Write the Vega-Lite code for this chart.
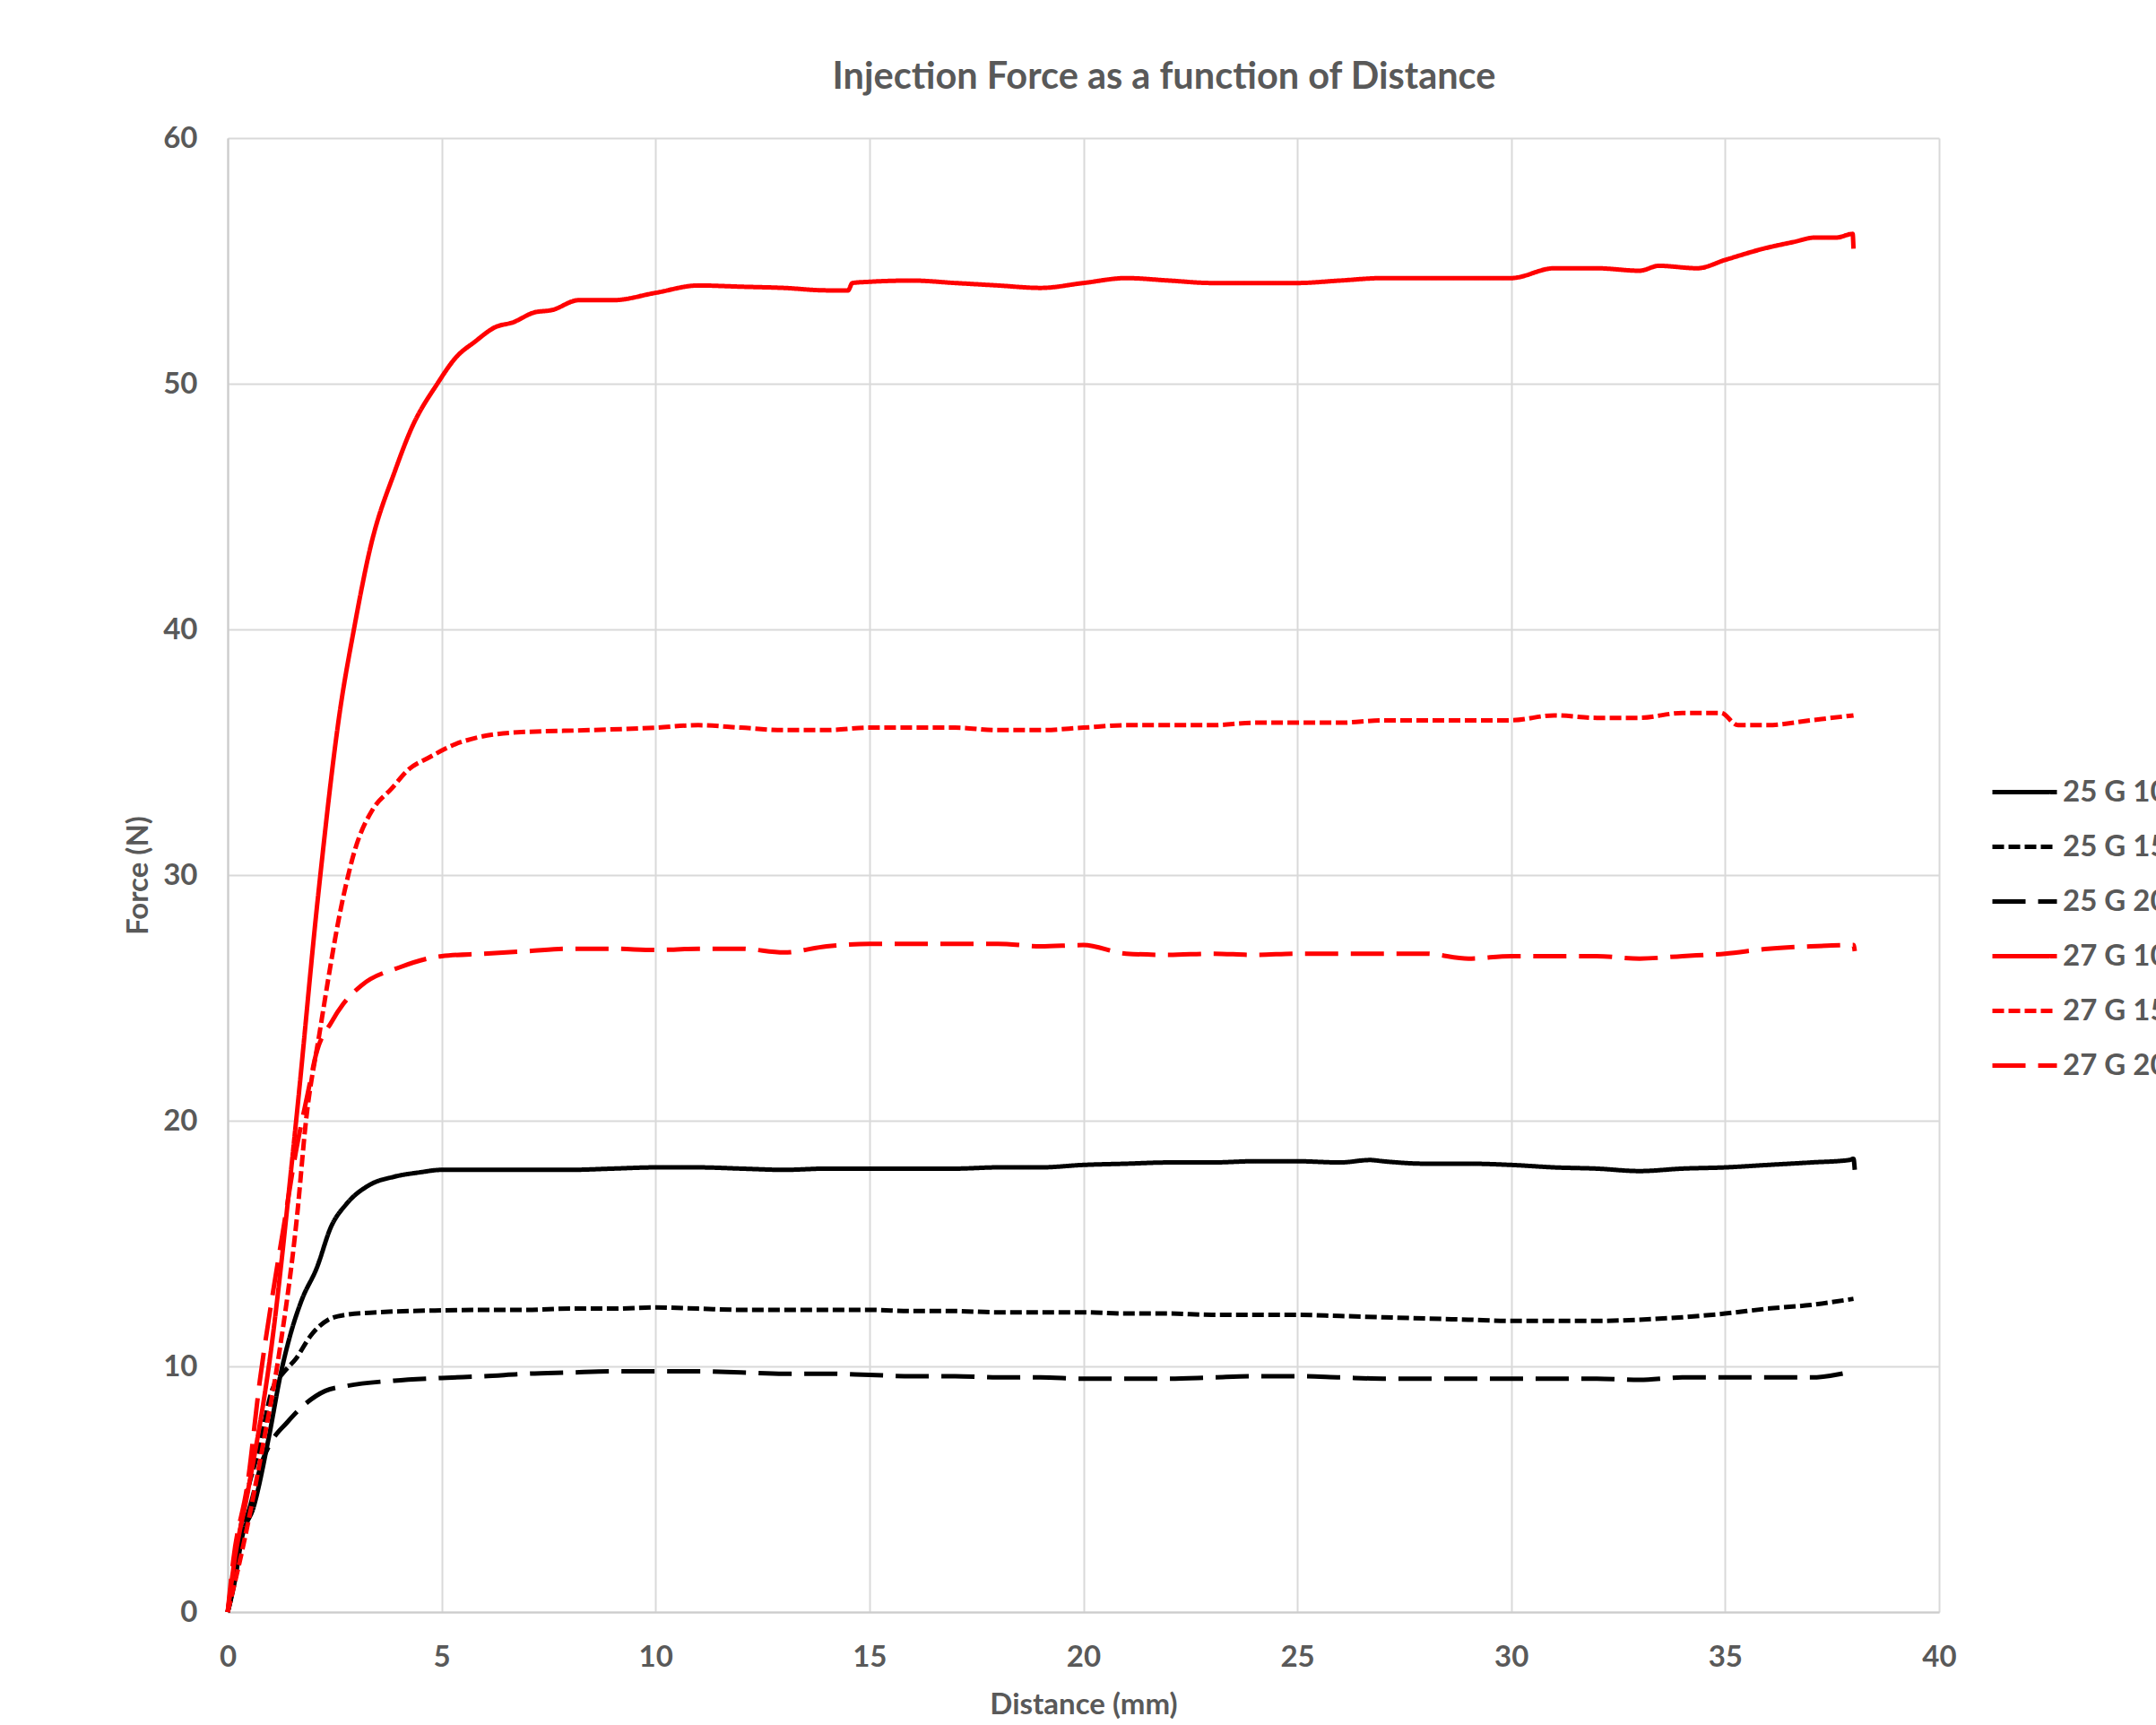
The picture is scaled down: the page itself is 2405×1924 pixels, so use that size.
{
  "$schema": "https://vega.github.io/schema/vega-lite/v6.json",
  "width": 1909,
  "height": 1644,
  "autosize": {"type": "none"},
  "padding": {"left": 254, "top": 154, "right": 242, "bottom": 126},
  "background": "white",
  "title": {
    "text": "Injection Force as a function of Distance",
    "anchor": "middle",
    "frame": "group",
    "dx": 90,
    "offset": -2,
    "font": "Lato",
    "fontSize": 41.5,
    "fontWeight": "bold",
    "color": "#595959",
    "baseline": "alphabetic"
  },
  "config": {
    "view": {"stroke": null},
    "axis": {
      "labelFont": "Lato",
      "labelFontSize": 33,
      "labelFontWeight": "bold",
      "labelColor": "#595959",
      "labelFlush": false,
      "titleFont": "Lato",
      "titleFontSize": 33,
      "titleFontWeight": "bold",
      "titleColor": "#595959",
      "gridColor": "#d9d9d9",
      "gridWidth": 2,
      "domainColor": "#cccccc",
      "domainWidth": 2,
      "ticks": false,
      "tickSize": 0
    },
    "legend": {
      "labelFont": "Lato",
      "labelFontSize": 33,
      "labelFontWeight": "bold",
      "labelColor": "#595959"
    }
  },
  "data": {
    "values": [
      {"s": "25 G 10", "x": 0, "y": 0},
      {"s": "25 G 10", "x": 0.16, "y": 1.2},
      {"s": "25 G 10", "x": 0.33, "y": 3.0},
      {"s": "25 G 10", "x": 0.61, "y": 4.3},
      {"s": "25 G 10", "x": 0.96, "y": 7.1},
      {"s": "25 G 10", "x": 1.24, "y": 9.7},
      {"s": "25 G 10", "x": 1.45, "y": 11.2},
      {"s": "25 G 10", "x": 1.73, "y": 12.7},
      {"s": "25 G 10", "x": 2.08, "y": 14.0},
      {"s": "25 G 10", "x": 2.42, "y": 15.7},
      {"s": "25 G 10", "x": 2.77, "y": 16.6},
      {"s": "25 G 10", "x": 3.33, "y": 17.4},
      {"s": "25 G 10", "x": 3.89, "y": 17.72},
      {"s": "25 G 10", "x": 4.5, "y": 17.9},
      {"s": "25 G 10", "x": 5, "y": 18.0},
      {"s": "25 G 10", "x": 6, "y": 18.0},
      {"s": "25 G 10", "x": 7, "y": 18.0},
      {"s": "25 G 10", "x": 8, "y": 18.0},
      {"s": "25 G 10", "x": 9, "y": 18.05},
      {"s": "25 G 10", "x": 10, "y": 18.1},
      {"s": "25 G 10", "x": 11, "y": 18.1},
      {"s": "25 G 10", "x": 12, "y": 18.05},
      {"s": "25 G 10", "x": 13, "y": 18.0},
      {"s": "25 G 10", "x": 14, "y": 18.05},
      {"s": "25 G 10", "x": 15, "y": 18.05},
      {"s": "25 G 10", "x": 16, "y": 18.05},
      {"s": "25 G 10", "x": 17, "y": 18.05},
      {"s": "25 G 10", "x": 18, "y": 18.1},
      {"s": "25 G 10", "x": 19, "y": 18.1},
      {"s": "25 G 10", "x": 20, "y": 18.2},
      {"s": "25 G 10", "x": 21, "y": 18.25},
      {"s": "25 G 10", "x": 22, "y": 18.3},
      {"s": "25 G 10", "x": 23, "y": 18.3},
      {"s": "25 G 10", "x": 24, "y": 18.35},
      {"s": "25 G 10", "x": 25, "y": 18.35},
      {"s": "25 G 10", "x": 26, "y": 18.3},
      {"s": "25 G 10", "x": 26.7, "y": 18.4},
      {"s": "25 G 10", "x": 27, "y": 18.35},
      {"s": "25 G 10", "x": 28, "y": 18.25},
      {"s": "25 G 10", "x": 29, "y": 18.25},
      {"s": "25 G 10", "x": 30, "y": 18.2},
      {"s": "25 G 10", "x": 31, "y": 18.1},
      {"s": "25 G 10", "x": 32, "y": 18.05},
      {"s": "25 G 10", "x": 33, "y": 17.95},
      {"s": "25 G 10", "x": 34, "y": 18.05},
      {"s": "25 G 10", "x": 35, "y": 18.1},
      {"s": "25 G 10", "x": 36, "y": 18.2},
      {"s": "25 G 10", "x": 37, "y": 18.3},
      {"s": "25 G 10", "x": 37.9, "y": 18.4},
      {"s": "25 G 10", "x": 38, "y": 18.45},
      {"s": "25 G 10", "x": 38.03, "y": 18.0},
      {"s": "25 G 15", "x": 0, "y": 0},
      {"s": "25 G 15", "x": 0.13, "y": 1.5},
      {"s": "25 G 15", "x": 0.4, "y": 4.4},
      {"s": "25 G 15", "x": 0.75, "y": 6.8},
      {"s": "25 G 15", "x": 1.03, "y": 9.0},
      {"s": "25 G 15", "x": 1.31, "y": 9.76},
      {"s": "25 G 15", "x": 1.59, "y": 10.3},
      {"s": "25 G 15", "x": 1.94, "y": 11.25},
      {"s": "25 G 15", "x": 2.35, "y": 11.9},
      {"s": "25 G 15", "x": 2.77, "y": 12.1},
      {"s": "25 G 15", "x": 3.5, "y": 12.2},
      {"s": "25 G 15", "x": 5, "y": 12.28},
      {"s": "25 G 15", "x": 6, "y": 12.3},
      {"s": "25 G 15", "x": 7, "y": 12.3},
      {"s": "25 G 15", "x": 8, "y": 12.35},
      {"s": "25 G 15", "x": 9, "y": 12.35},
      {"s": "25 G 15", "x": 10, "y": 12.4},
      {"s": "25 G 15", "x": 11, "y": 12.35},
      {"s": "25 G 15", "x": 12, "y": 12.3},
      {"s": "25 G 15", "x": 13, "y": 12.3},
      {"s": "25 G 15", "x": 14, "y": 12.3},
      {"s": "25 G 15", "x": 15, "y": 12.3},
      {"s": "25 G 15", "x": 16, "y": 12.25},
      {"s": "25 G 15", "x": 17, "y": 12.25},
      {"s": "25 G 15", "x": 18, "y": 12.2},
      {"s": "25 G 15", "x": 19, "y": 12.2},
      {"s": "25 G 15", "x": 20, "y": 12.2},
      {"s": "25 G 15", "x": 21, "y": 12.15},
      {"s": "25 G 15", "x": 22, "y": 12.15},
      {"s": "25 G 15", "x": 23, "y": 12.1},
      {"s": "25 G 15", "x": 24, "y": 12.1},
      {"s": "25 G 15", "x": 25, "y": 12.1},
      {"s": "25 G 15", "x": 26, "y": 12.05},
      {"s": "25 G 15", "x": 27, "y": 12.0},
      {"s": "25 G 15", "x": 28, "y": 11.95},
      {"s": "25 G 15", "x": 29, "y": 11.9},
      {"s": "25 G 15", "x": 30, "y": 11.85},
      {"s": "25 G 15", "x": 31, "y": 11.85},
      {"s": "25 G 15", "x": 32, "y": 11.85},
      {"s": "25 G 15", "x": 33, "y": 11.9},
      {"s": "25 G 15", "x": 34, "y": 12.0},
      {"s": "25 G 15", "x": 35, "y": 12.15},
      {"s": "25 G 15", "x": 36, "y": 12.35},
      {"s": "25 G 15", "x": 37, "y": 12.5},
      {"s": "25 G 15", "x": 38, "y": 12.75},
      {"s": "25 G 20", "x": 0, "y": 0},
      {"s": "25 G 20", "x": 0.06, "y": 0.4},
      {"s": "25 G 20", "x": 0.26, "y": 2.65},
      {"s": "25 G 20", "x": 0.54, "y": 4.4},
      {"s": "25 G 20", "x": 0.82, "y": 6.2},
      {"s": "25 G 20", "x": 1.03, "y": 6.96},
      {"s": "25 G 20", "x": 1.38, "y": 7.7},
      {"s": "25 G 20", "x": 1.8, "y": 8.45},
      {"s": "25 G 20", "x": 2.28, "y": 9.0},
      {"s": "25 G 20", "x": 2.77, "y": 9.2},
      {"s": "25 G 20", "x": 3.89, "y": 9.42},
      {"s": "25 G 20", "x": 5, "y": 9.53},
      {"s": "25 G 20", "x": 6, "y": 9.6},
      {"s": "25 G 20", "x": 7, "y": 9.7},
      {"s": "25 G 20", "x": 8, "y": 9.75},
      {"s": "25 G 20", "x": 9, "y": 9.8},
      {"s": "25 G 20", "x": 10, "y": 9.8},
      {"s": "25 G 20", "x": 11, "y": 9.8},
      {"s": "25 G 20", "x": 12, "y": 9.75},
      {"s": "25 G 20", "x": 13, "y": 9.7},
      {"s": "25 G 20", "x": 14, "y": 9.7},
      {"s": "25 G 20", "x": 15, "y": 9.65},
      {"s": "25 G 20", "x": 16, "y": 9.6},
      {"s": "25 G 20", "x": 17, "y": 9.6},
      {"s": "25 G 20", "x": 18, "y": 9.55},
      {"s": "25 G 20", "x": 19, "y": 9.55},
      {"s": "25 G 20", "x": 20, "y": 9.5},
      {"s": "25 G 20", "x": 21, "y": 9.5},
      {"s": "25 G 20", "x": 22, "y": 9.5},
      {"s": "25 G 20", "x": 23, "y": 9.55},
      {"s": "25 G 20", "x": 24, "y": 9.6},
      {"s": "25 G 20", "x": 25, "y": 9.6},
      {"s": "25 G 20", "x": 26, "y": 9.55},
      {"s": "25 G 20", "x": 27, "y": 9.5},
      {"s": "25 G 20", "x": 28, "y": 9.5},
      {"s": "25 G 20", "x": 29, "y": 9.5},
      {"s": "25 G 20", "x": 30, "y": 9.5},
      {"s": "25 G 20", "x": 31, "y": 9.5},
      {"s": "25 G 20", "x": 32, "y": 9.5},
      {"s": "25 G 20", "x": 33, "y": 9.45},
      {"s": "25 G 20", "x": 34, "y": 9.55},
      {"s": "25 G 20", "x": 35, "y": 9.55},
      {"s": "25 G 20", "x": 36, "y": 9.55},
      {"s": "25 G 20", "x": 37, "y": 9.55},
      {"s": "25 G 20", "x": 38, "y": 9.8},
      {"s": "27 G 10", "x": 0, "y": 0},
      {"s": "27 G 10", "x": 0.16, "y": 2.1},
      {"s": "27 G 10", "x": 0.47, "y": 4.9},
      {"s": "27 G 10", "x": 1.0, "y": 10.5},
      {"s": "27 G 10", "x": 1.6, "y": 20.0},
      {"s": "27 G 10", "x": 2.11, "y": 29.1},
      {"s": "27 G 10", "x": 2.63, "y": 36.76},
      {"s": "27 G 10", "x": 2.95, "y": 40.0},
      {"s": "27 G 10", "x": 3.33, "y": 43.3},
      {"s": "27 G 10", "x": 3.92, "y": 46.5},
      {"s": "27 G 10", "x": 4.3, "y": 48.2},
      {"s": "27 G 10", "x": 4.9, "y": 50.0},
      {"s": "27 G 10", "x": 5.35, "y": 51.1},
      {"s": "27 G 10", "x": 5.77, "y": 51.7},
      {"s": "27 G 10", "x": 6.25, "y": 52.3},
      {"s": "27 G 10", "x": 6.67, "y": 52.5},
      {"s": "27 G 10", "x": 7.16, "y": 52.9},
      {"s": "27 G 10", "x": 7.58, "y": 53.0},
      {"s": "27 G 10", "x": 8.2, "y": 53.4},
      {"s": "27 G 10", "x": 9, "y": 53.4},
      {"s": "27 G 10", "x": 10, "y": 53.7},
      {"s": "27 G 10", "x": 11, "y": 54.0},
      {"s": "27 G 10", "x": 12, "y": 53.95},
      {"s": "27 G 10", "x": 13, "y": 53.9},
      {"s": "27 G 10", "x": 14, "y": 53.8},
      {"s": "27 G 10", "x": 14.5, "y": 53.8},
      {"s": "27 G 10", "x": 14.6, "y": 54.1},
      {"s": "27 G 10", "x": 15, "y": 54.15},
      {"s": "27 G 10", "x": 16, "y": 54.2},
      {"s": "27 G 10", "x": 17, "y": 54.1},
      {"s": "27 G 10", "x": 18, "y": 54.0},
      {"s": "27 G 10", "x": 19, "y": 53.9},
      {"s": "27 G 10", "x": 20, "y": 54.1},
      {"s": "27 G 10", "x": 21, "y": 54.3},
      {"s": "27 G 10", "x": 22, "y": 54.2},
      {"s": "27 G 10", "x": 23, "y": 54.1},
      {"s": "27 G 10", "x": 24, "y": 54.1},
      {"s": "27 G 10", "x": 25, "y": 54.1},
      {"s": "27 G 10", "x": 26, "y": 54.2},
      {"s": "27 G 10", "x": 27, "y": 54.3},
      {"s": "27 G 10", "x": 28, "y": 54.3},
      {"s": "27 G 10", "x": 29, "y": 54.3},
      {"s": "27 G 10", "x": 30, "y": 54.3},
      {"s": "27 G 10", "x": 31, "y": 54.7},
      {"s": "27 G 10", "x": 32, "y": 54.7},
      {"s": "27 G 10", "x": 33, "y": 54.6},
      {"s": "27 G 10", "x": 33.45, "y": 54.8},
      {"s": "27 G 10", "x": 34.35, "y": 54.7},
      {"s": "27 G 10", "x": 35, "y": 55.04},
      {"s": "27 G 10", "x": 35.9, "y": 55.5},
      {"s": "27 G 10", "x": 36.6, "y": 55.77},
      {"s": "27 G 10", "x": 37.1, "y": 55.95},
      {"s": "27 G 10", "x": 37.6, "y": 55.95},
      {"s": "27 G 10", "x": 37.98, "y": 56.1},
      {"s": "27 G 10", "x": 38.0, "y": 55.5},
      {"s": "27 G 15", "x": 0, "y": 0},
      {"s": "27 G 15", "x": 0.4, "y": 3.0},
      {"s": "27 G 15", "x": 0.82, "y": 6.75},
      {"s": "27 G 15", "x": 1.2, "y": 10.5},
      {"s": "27 G 15", "x": 1.62, "y": 16.1},
      {"s": "27 G 15", "x": 1.83, "y": 20.0},
      {"s": "27 G 15", "x": 2.14, "y": 23.5},
      {"s": "27 G 15", "x": 2.7, "y": 29.1},
      {"s": "27 G 15", "x": 2.98, "y": 31.06},
      {"s": "27 G 15", "x": 3.4, "y": 32.7},
      {"s": "27 G 15", "x": 3.82, "y": 33.5},
      {"s": "27 G 15", "x": 4.23, "y": 34.3},
      {"s": "27 G 15", "x": 4.72, "y": 34.8},
      {"s": "27 G 15", "x": 5.28, "y": 35.3},
      {"s": "27 G 15", "x": 5.84, "y": 35.6},
      {"s": "27 G 15", "x": 6.67, "y": 35.8},
      {"s": "27 G 15", "x": 8.48, "y": 35.9},
      {"s": "27 G 15", "x": 10, "y": 36.0},
      {"s": "27 G 15", "x": 11, "y": 36.1},
      {"s": "27 G 15", "x": 12, "y": 36.0},
      {"s": "27 G 15", "x": 13, "y": 35.9},
      {"s": "27 G 15", "x": 14, "y": 35.9},
      {"s": "27 G 15", "x": 15, "y": 36.0},
      {"s": "27 G 15", "x": 16, "y": 36.0},
      {"s": "27 G 15", "x": 17, "y": 36.0},
      {"s": "27 G 15", "x": 18, "y": 35.9},
      {"s": "27 G 15", "x": 19, "y": 35.9},
      {"s": "27 G 15", "x": 20, "y": 36.0},
      {"s": "27 G 15", "x": 21, "y": 36.1},
      {"s": "27 G 15", "x": 22, "y": 36.1},
      {"s": "27 G 15", "x": 23, "y": 36.1},
      {"s": "27 G 15", "x": 24, "y": 36.2},
      {"s": "27 G 15", "x": 25, "y": 36.2},
      {"s": "27 G 15", "x": 26, "y": 36.2},
      {"s": "27 G 15", "x": 27, "y": 36.3},
      {"s": "27 G 15", "x": 28, "y": 36.3},
      {"s": "27 G 15", "x": 29, "y": 36.3},
      {"s": "27 G 15", "x": 30, "y": 36.3},
      {"s": "27 G 15", "x": 31, "y": 36.5},
      {"s": "27 G 15", "x": 32, "y": 36.4},
      {"s": "27 G 15", "x": 33, "y": 36.4},
      {"s": "27 G 15", "x": 34, "y": 36.6},
      {"s": "27 G 15", "x": 34.9, "y": 36.6},
      {"s": "27 G 15", "x": 35.3, "y": 36.1},
      {"s": "27 G 15", "x": 36, "y": 36.1},
      {"s": "27 G 15", "x": 37, "y": 36.3},
      {"s": "27 G 15", "x": 38, "y": 36.5},
      {"s": "27 G 20", "x": 0, "y": 0},
      {"s": "27 G 20", "x": 0.13, "y": 2.1},
      {"s": "27 G 20", "x": 0.47, "y": 5.3},
      {"s": "27 G 20", "x": 0.75, "y": 9.4},
      {"s": "27 G 20", "x": 1.03, "y": 12.7},
      {"s": "27 G 20", "x": 1.31, "y": 15.7},
      {"s": "27 G 20", "x": 1.59, "y": 18.7},
      {"s": "27 G 20", "x": 1.87, "y": 21.1},
      {"s": "27 G 20", "x": 2.08, "y": 22.8},
      {"s": "27 G 20", "x": 2.42, "y": 24.0},
      {"s": "27 G 20", "x": 2.7, "y": 24.75},
      {"s": "27 G 20", "x": 3.12, "y": 25.5},
      {"s": "27 G 20", "x": 4.03, "y": 26.25},
      {"s": "27 G 20", "x": 5, "y": 26.7},
      {"s": "27 G 20", "x": 6, "y": 26.8},
      {"s": "27 G 20", "x": 7, "y": 26.9},
      {"s": "27 G 20", "x": 8, "y": 27.0},
      {"s": "27 G 20", "x": 9, "y": 27.0},
      {"s": "27 G 20", "x": 10, "y": 26.95},
      {"s": "27 G 20", "x": 11, "y": 27.0},
      {"s": "27 G 20", "x": 12, "y": 27.0},
      {"s": "27 G 20", "x": 13, "y": 26.85},
      {"s": "27 G 20", "x": 14, "y": 27.1},
      {"s": "27 G 20", "x": 15, "y": 27.2},
      {"s": "27 G 20", "x": 16, "y": 27.2},
      {"s": "27 G 20", "x": 17, "y": 27.2},
      {"s": "27 G 20", "x": 18, "y": 27.2},
      {"s": "27 G 20", "x": 19, "y": 27.1},
      {"s": "27 G 20", "x": 20, "y": 27.15},
      {"s": "27 G 20", "x": 21, "y": 26.8},
      {"s": "27 G 20", "x": 22, "y": 26.75},
      {"s": "27 G 20", "x": 23, "y": 26.8},
      {"s": "27 G 20", "x": 24, "y": 26.75},
      {"s": "27 G 20", "x": 25, "y": 26.8},
      {"s": "27 G 20", "x": 26, "y": 26.8},
      {"s": "27 G 20", "x": 27, "y": 26.8},
      {"s": "27 G 20", "x": 28, "y": 26.8},
      {"s": "27 G 20", "x": 29, "y": 26.6},
      {"s": "27 G 20", "x": 30, "y": 26.7},
      {"s": "27 G 20", "x": 31, "y": 26.7},
      {"s": "27 G 20", "x": 32, "y": 26.7},
      {"s": "27 G 20", "x": 33, "y": 26.6},
      {"s": "27 G 20", "x": 34, "y": 26.7},
      {"s": "27 G 20", "x": 35, "y": 26.8},
      {"s": "27 G 20", "x": 36, "y": 27.0},
      {"s": "27 G 20", "x": 37, "y": 27.1},
      {"s": "27 G 20", "x": 38, "y": 27.15},
      {"s": "27 G 20", "x": 38.03, "y": 26.9}
    ]
  },
  "mark": {"type": "line", "strokeWidth": 5, "strokeJoin": "round", "interpolate": "monotone"},
  "encoding": {
    "x": {
      "field": "x",
      "type": "quantitative",
      "scale": {"domain": [0, 40], "nice": false, "zero": false},
      "axis": {
        "values": [0, 5, 10, 15, 20, 25, 30, 35, 40],
        "title": "Distance (mm)",
        "labelPadding": 50,
        "labelBaseline": "middle",
        "titleY": 103,
        "titleBaseline": "middle",
        "grid": true
      }
    },
    "y": {
      "field": "y",
      "type": "quantitative",
      "scale": {"domain": [0, 60], "nice": false, "zero": false},
      "axis": {
        "values": [0, 10, 20, 30, 40, 50, 60],
        "title": "Force (N)",
        "labelPadding": 34,
        "titleX": -100,
        "titleY": 822,
        "titleAngle": -90,
        "titleBaseline": "middle",
        "titleAlign": "center",
        "grid": true
      }
    },
    "color": {
      "field": "s",
      "type": "nominal",
      "scale": {
        "domain": ["25 G 10", "25 G 15", "25 G 20", "27 G 10", "27 G 15", "27 G 20"],
        "range": ["#000000", "#000000", "#000000", "#ff0000", "#ff0000", "#ff0000"]
      },
      "legend": {
        "title": null,
        "orient": "none",
        "legendX": 1966,
        "legendY": 691,
        "padding": 0,
        "symbolType": "stroke",
        "symbolSize": 5184,
        "symbolStrokeWidth": 5,
        "rowPadding": 5,
        "labelOffset": 4
      }
    },
    "strokeDash": {
      "field": "s",
      "type": "nominal",
      "scale": {
        "domain": ["25 G 10", "25 G 15", "25 G 20", "27 G 10", "27 G 15", "27 G 20"],
        "range": [[1, 0], [13, 5], [37, 14], [1, 0], [13, 5], [37, 14]]
      },
      "legend": null
    }
  }
}
